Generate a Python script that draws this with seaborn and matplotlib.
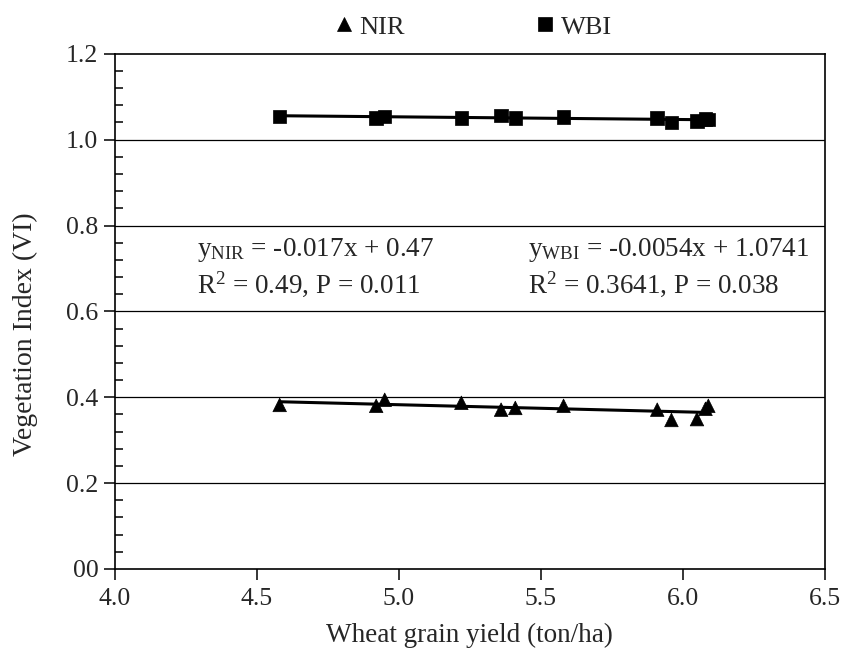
import numpy as np
import pandas as pd
import matplotlib
matplotlib.use("Agg")
import matplotlib.pyplot as plt
from matplotlib.ticker import FixedLocator, FixedFormatter, MultipleLocator
import seaborn as sns

# values
grain_yield = [4.58, 4.92, 4.95, 5.22, 5.36, 5.41, 5.58, 5.91, 5.96, 6.05, 6.08, 6.09]
nir = [0.382, 0.380, 0.394, 0.387, 0.371, 0.375, 0.380, 0.371, 0.347, 0.349, 0.373, 0.380]
wbi = [1.054, 1.051, 1.054, 1.051, 1.056, 1.051, 1.053, 1.051, 1.040, 1.043, 1.048, 1.047]

y_ticks = [0.0, 0.2, 0.4, 0.6, 0.8, 1.0, 1.2]
y_tick_labels = ["00", "0.2", "0.4", "0.6", "0.8", "1.0", "1.2"]
x_ticks = [4.0, 4.5, 5.0, 5.5, 6.0, 6.5]

df = pd.concat([
    pd.DataFrame({"yield": grain_yield, "VI": nir, "index": "NIR"}),
    pd.DataFrame({"yield": grain_yield, "VI": wbi, "index": "WBI"}),
], ignore_index=True)

sns.set_style("white")
plt.rcParams["font.family"] = ["Liberation Serif", "DejaVu Serif"]
plt.rcParams["mathtext.fontset"] = "custom"
plt.rcParams["mathtext.rm"] = "Liberation Serif"
plt.rcParams["mathtext.it"] = "Liberation Serif"

fig = plt.figure(figsize=(8.52, 6.48), dpi=100)
ax = fig.add_axes([0.135, 0.122, 0.833, 0.795])

# horizontal grid lines at the major y ticks
for t in y_ticks[1:-1]:
    ax.axhline(t, color="black", lw=0.9, zorder=0)

sns.scatterplot(data=df, x="yield", y="VI", hue="index", style="index",
                markers={"NIR": "^", "WBI": "s"},
                palette={"NIR": "black", "WBI": "black"},
                s=95, edgecolor="black", linewidth=0.5, ax=ax, zorder=3)

for name in ["NIR", "WBI"]:
    sub = df[df["index"] == name]
    sns.regplot(data=sub, x="yield", y="VI", scatter=False, ci=None,
                truncate=True, color="black", line_kws={"lw": 2.2}, ax=ax)

ax.set_xlim(4.0, 6.5)
ax.set_ylim(0.0, 1.2)
ax.xaxis.set_major_locator(FixedLocator(x_ticks))
ax.set_xticklabels([f"{v:.1f}" for v in x_ticks])
ax.yaxis.set_major_locator(FixedLocator(y_ticks))
ax.yaxis.set_major_formatter(FixedFormatter(y_tick_labels))
ax.yaxis.set_minor_locator(MultipleLocator(0.04))

ax.tick_params(axis="x", which="major", direction="out", length=8,
               width=1.1, color="black", labelsize=18.5, pad=6, bottom=True)
ax.tick_params(axis="y", which="major", direction="out", length=8,
               width=1.1, color="black", labelsize=18.5, pad=4, left=True)
ax.tick_params(axis="y", which="minor", direction="in", length=6,
               width=1.1, color="black", left=True)
for sp in ax.spines.values():
    sp.set_color("black")
    sp.set_linewidth(1.2)

ax.set_xlabel("Wheat grain yield (ton/ha)", fontsize=19.5, labelpad=9)
ax.set_ylabel("Vegetation Index (VI)", fontsize=20)
ax.yaxis.set_label_coords(-0.108, 0.455)

ax.text(0.115, 0.62, r"y$_{\mathrm{NIR}}$ = -0.017x + 0.47", transform=ax.transAxes,
        fontsize=19.5, va="center", ha="left")
ax.text(0.115, 0.553, r"R$^{2}$ = 0.49, P = 0.011", transform=ax.transAxes,
        fontsize=19.5, va="center", ha="left")
ax.text(0.582, 0.62, r"y$_{\mathrm{WBI}}$ = -0.0054x + 1.0741", transform=ax.transAxes,
        fontsize=19.5, va="center", ha="left")
ax.text(0.582, 0.553, r"R$^{2}$ = 0.3641, P = 0.038", transform=ax.transAxes,
        fontsize=19.5, va="center", ha="left")

sns.move_legend(ax, "center", bbox_to_anchor=(0.50, 1.052), ncol=2,
                frameon=False, title=None, fontsize=19, columnspacing=4.7,
                handletextpad=0.0, handlelength=1.2, markerscale=1.0)

fig.savefig("out.png", dpi=100)
